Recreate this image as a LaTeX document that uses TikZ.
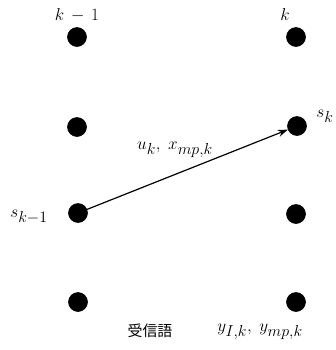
\RequirePackage{fix-cm}
\documentclass[tikz,border=0pt]{standalone}
\usepackage{amsmath}
\usepackage{fontspec}
\newfontfamily\jpfont{Noto Sans CJK JP}
\usepackage{tikz}
\usetikzlibrary{positioning, arrows.meta}
\DeclareMathSizes{17.28}{17.28}{16}{12}

\begin{document}
\begin{tikzpicture}[
    x=1bp, y=-1bp,
    state/.style={draw, circle, fill=black, minimum size=19bp,
                  inner sep=0pt, line width=0.6bp},
    lbl/.style={font=\fontsize{17.28}{21}\selectfont, inner sep=0pt},
    arw/.style={-{Stealth[length=10bp, width=7bp]}, line width=1.2bp},
]
\useasboundingbox (0,0) rectangle (336,350);

% --- Time k-1 ---
\node[state] (prev1) at (77, 37) {};
\node[state] (prev2) at (77, 127) {};
\node[state] (prev3) at (78, 213) {};
\node[state] (prev4) at (78, 302) {};

% --- Time k ---
\node[state] (cur1) at (296, 37) {};
\node[state] (cur2) at (297, 126) {};
\node[state] (cur3) at (296, 214) {};
\node[state] (cur4) at (296, 302) {};

% --- Column labels ---
\node[lbl] (tprev) at (77, 15) {$k\,-\,1$};
\node[lbl] (tcur) at (285, 15) {$k$};

% --- State labels ---
\node[lbl] (sprev) at (29, 217) {$s_{k-1}$};
\node[lbl] (scur) at (325, 116) {$s_k$};

% --- Transition ---
\draw[arw] (prev3) -- (cur2);
\node[lbl] (branch) at (175, 150) {$u_k,\; x_{mp,k}$};

% --- Received word ---
\node[font=\fontsize{15}{18}\selectfont\jpfont] (recv) at (150, 331) {受信語};
\node[lbl] (recvsym) at (260, 332) {$y_{I,k},\; y_{mp,k}$};
\end{tikzpicture}
\end{document}
